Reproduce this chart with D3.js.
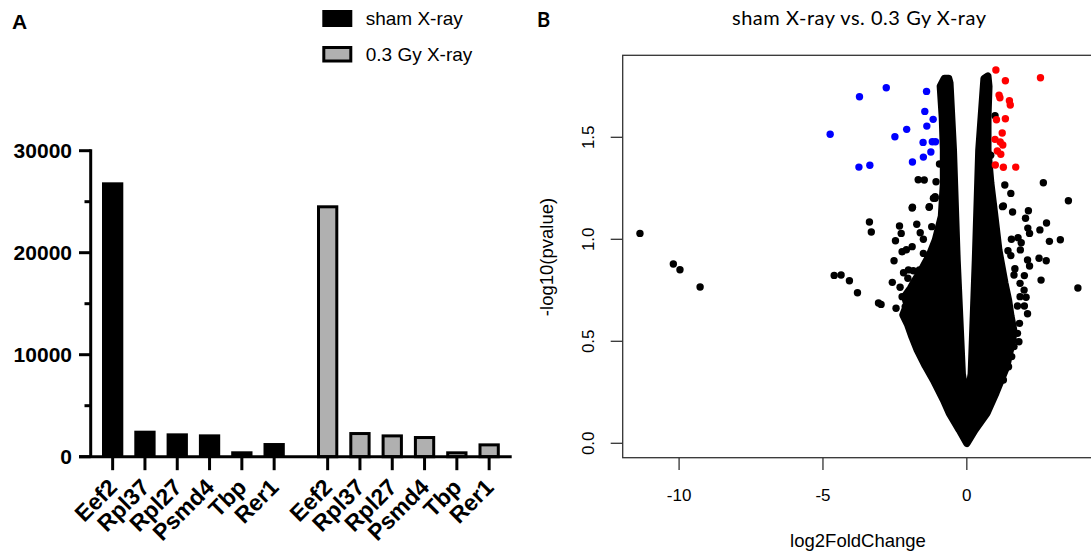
<!DOCTYPE html>
<html>
<head>
<meta charset="utf-8">
<script src="https://cdn.jsdelivr.net/npm/d3@7"></script>
<style>
  body { margin: 0; background: #fff; }
  svg { display: block; }
</style>
</head>
<body>
<svg id="chart" width="1091" height="554"></svg>
<script>
// ---------- Panel A: reference gene counts ----------
const genes = ["Eef2", "Rpl37", "Rpl27", "Psmd4", "Tbp", "Rer1"];
const groups = ["sham X-ray", "0.3 Gy X-ray"];
const shamValues = [26900, 2550, 2290, 2190, 530, 1340];
const irradiatedValues = [24500, 2270, 2040, 1880, 380, 1160];
const countTicks = [0, 10000, 20000, 30000];
const countMinorTicks = [5000, 15000, 25000];

// ---------- Panel B: volcano plot ----------
const volcanoTitle = "sham X-ray vs. 0.3 Gy X-ray";
const lfcTicks = [-10, -5, 0];
const pTicks = [0, 0.5, 1.0, 1.5];

// outline of the dense mass of non-significant genes [log2FC, -log10 p]
const denseOutline = [
  [0, 0], [-0.26, 0.065], [-0.61, 0.148], [-0.81, 0.212], [-1.16, 0.310],
  [-1.44, 0.379], [-1.72, 0.457], [-1.90, 0.52], [-2.05, 0.58], [-2.22, 0.63],
  [-2.08, 0.68], [-2.16, 0.72], [-1.96, 0.76], [-1.80, 0.80], [-1.58, 0.850],
  [-1.30, 0.923], [-1.09, 0.997], [-0.88, 1.114],
  [-0.81, 1.276], [-0.81, 1.438], [-0.85, 1.600], [-0.92, 1.750], [-0.78, 1.788],
  [-0.63, 1.788], [-0.59, 1.766], [-0.47, 1.438], [-0.34, 0.898], [-0.16, 0.34],
  [0, 0.20], [0.155, 0.34], [0.30, 0.898], [0.42, 1.438], [0.58, 1.75],
  [0.60, 1.788], [0.73, 1.80], [0.765, 1.75], [0.73, 1.600], [0.73, 1.438],
  [0.83, 1.276], [0.97, 1.114], [1.11, 0.948], [1.32, 0.786], [1.45, 0.70],
  [1.53, 0.624], [1.62, 0.56], [1.60, 0.507], [1.48, 0.44], [1.39, 0.379],
  [1.01, 0.247], [0.70, 0.148], [0.28, 0.065]
];

// genes outside the dense mass that are not significant
const otherGenes = [
  [-11.36, 1.029], [-10.20, 0.879], [-9.97, 0.851], [-9.27, 0.766],
  [-4.61, 0.823], [-4.37, 0.825], [-4.08, 0.797], [-3.80, 0.738],
  [-3.385, 1.085], [-3.32, 1.036], [-3.07, 0.688], [-2.98, 0.681],
  [-1.90, 1.153], [-2.34, 1.065], [-2.28, 1.029], [-2.48, 0.993], [-2.53, 0.895], [-2.59, 0.789],
  [-2.25, 0.939], [-2.10, 0.949], [-1.90, 0.964], [-2.32, 0.765], [-2.25, 0.719], [-2.46, 0.662],
  [-1.74, 1.074], [-1.62, 1.032], [-1.51, 1.0], [-1.31, 1.157], [-1.51, 0.931],
  [-1.69, 1.292], [-1.48, 1.291], [-1.07, 1.282], [-1.89, 1.157], [-1.30, 1.16], [-0.95, 1.369],
  [-2.20, 0.836], [-2.03, 0.850], [-1.86, 0.846], [-1.65, 0.850], [-2.03, 0.629], [-1.94, 0.670],
  [-1.80, 0.604], [-2.14, 0.670], [-2.05, 0.809], [-2.01, 0.735], [-1.74, 0.800], [-1.39, 0.882],
  [-1.22, 1.062], [-1.10, 1.201], [-1.10, 1.209], [-1.16, 1.201],
  [2.66, 1.277], [3.53, 1.189], [1.32, 1.266], [1.53, 1.225], [1.27, 1.163], [0.83, 1.412], [0.98, 1.606],
  [1.24, 1.16], [1.59, 1.134], [2.14, 1.140], [2.04, 1.103], [2.77, 1.080], [2.12, 1.055], [2.18, 1.029],
  [2.54, 1.046], [2.87, 0.990], [3.25, 0.998], [1.55, 1.0], [1.78, 1.008], [1.86, 0.948], [1.89, 0.983],
  [1.43, 0.944], [1.53, 0.920], [2.11, 0.899], [2.18, 0.869], [2.51, 0.907], [2.76, 0.895], [2.00, 0.822],
  [2.58, 0.800], [3.86, 0.761], [1.67, 0.856], [1.64, 0.825], [1.85, 0.784], [1.99, 0.751], [1.85, 0.719],
  [2.06, 0.716], [1.76, 0.673], [2.00, 0.673], [2.11, 0.635], [1.83, 0.588], [1.76, 0.539], [1.81, 0.498],
  [1.64, 0.474], [1.56, 0.425], [1.45, 0.375], [1.27, 0.310]
];

// significantly down-regulated genes
const downGenes = [
  [-4.75, 1.515], [-3.73, 1.699], [-2.80, 1.743], [-3.75, 1.354], [-3.37, 1.363],
  [-2.50, 1.503], [-2.09, 1.539], [-1.89, 1.379], [-1.40, 1.725], [-1.46, 1.627],
  [-1.17, 1.588], [-1.39, 1.555], [-1.52, 1.475], [-1.20, 1.478], [-1.09, 1.478],
  [-1.25, 1.428], [-1.51, 1.403]
];

// significantly up-regulated genes
const upGenes = [
  [1.01, 1.830], [1.34, 1.777], [2.56, 1.792], [1.12, 1.707], [1.15, 1.694],
  [1.48, 1.679], [1.51, 1.658], [1.03, 1.586], [1.34, 1.591], [1.23, 1.521],
  [0.98, 1.490], [1.16, 1.477], [1.25, 1.462], [1.06, 1.433], [1.18, 1.417],
  [0.99, 1.364], [1.27, 1.353], [1.70, 1.354]
];

const svg = d3.select("#chart");
const arial = "'Liberation Sans', Arial, sans-serif";

// ===================== Panel A =====================
const gA = svg.append("g");

const yA = d3.scaleLinear().domain([0, 30000]).range([456.7, 150.7]);
const xGroup = d3.scaleBand().domain(groups).range([96.5, 505.3]).paddingInner(0.0986);
const xGene = d3.scaleBand().domain(genes).range([0, xGroup.bandwidth()]);
const barW = 21.3;

const seriesData = [
  { group: groups[0], values: shamValues, fill: "#000", stroke: "none" },
  { group: groups[1], values: irradiatedValues, fill: "#b0b0b0", stroke: "#000" }
];

seriesData.forEach(s => {
  const cx = g => xGroup(s.group) + xGene(g) + xGene.bandwidth() / 2;
  gA.selectAll(null)
    .data(genes.map((g, i) => ({ gene: g, v: s.values[i] })))
    .join("rect")
    .attr("x", d => cx(d.gene) - (s.stroke === "none" ? barW / 2 : barW / 2 - 1.5))
    .attr("y", d => yA(d.v))
    .attr("width", s.stroke === "none" ? barW : barW - 3)
    .attr("height", d => yA(0) - yA(d.v))
    .attr("fill", s.fill)
    .attr("stroke", s.stroke)
    .attr("stroke-width", 3);

  // category ticks and labels
  genes.forEach(g => {
    gA.append("line")
      .attr("x1", cx(g)).attr("x2", cx(g))
      .attr("y1", yA(0)).attr("y2", yA(0) + 13.5)
      .attr("stroke", "#000").attr("stroke-width", 3);
    gA.append("text")
      .attr("transform", `translate(${cx(g) + 6},${yA(0) + 32}) rotate(-45)`)
      .attr("text-anchor", "end")
      .attr("font-family", arial)
      .attr("font-weight", "bold")
      .attr("font-size", 23)
      .text(g);
  });
});

// axes of panel A
gA.append("line")
  .attr("x1", 90.7).attr("x2", 90.7)
  .attr("y1", yA(30000) - 1.5).attr("y2", yA(0))
  .attr("stroke", "#000").attr("stroke-width", 3);
gA.append("line")
  .attr("x1", 79).attr("x2", 511.7)
  .attr("y1", yA(0)).attr("y2", yA(0))
  .attr("stroke", "#000").attr("stroke-width", 3);
countTicks.forEach(t => {
  gA.append("line")
    .attr("x1", 79).attr("x2", 90.7)
    .attr("y1", yA(t)).attr("y2", yA(t))
    .attr("stroke", "#000").attr("stroke-width", 3);
  gA.append("text")
    .attr("x", 72).attr("y", yA(t))
    .attr("dy", "0.36em")
    .attr("text-anchor", "end")
    .attr("font-family", arial)
    .attr("font-weight", "bold")
    .attr("font-size", 21)
    .text(t);
});
countMinorTicks.forEach(t => {
  gA.append("line")
    .attr("x1", 84.5).attr("x2", 90.7)
    .attr("y1", yA(t)).attr("y2", yA(t))
    .attr("stroke", "#000").attr("stroke-width", 3);
});

// legend
const legend = gA.append("g");
legend.append("rect").attr("x", 322.3).attr("y", 10).attr("width", 30).attr("height", 17).attr("fill", "#000");
legend.append("rect").attr("x", 323.8).attr("y", 47.5).attr("width", 27).attr("height", 13.5)
  .attr("fill", "#b0b0b0").attr("stroke", "#000").attr("stroke-width", 3);
groups.forEach((g, i) => {
  legend.append("text")
    .attr("x", 365.7).attr("y", 18.5 + i * 36)
    .attr("dy", "0.36em")
    .attr("font-family", arial)
    .attr("font-size", 19)
    .text(g);
});

svg.append("text")
  .attr("x", 12).attr("y", 28.5)
  .attr("font-family", arial).attr("font-weight", "bold").attr("font-size", 21)
  .text("A");

// ===================== Panel B =====================
const gB = svg.append("g");
const xB = d3.scaleLinear().domain([-11.96, 4.42]).range([622.7, 1094]);
const yB = d3.scaleLinear().domain([-0.0706, 1.902]).range([457.7, 55.3]);
const r = 3.7;

// dense mass
gB.append("path")
  .datum(denseOutline)
  .attr("d", d3.line().x(d => xB(d[0])).y(d => yB(d[1])).curve(d3.curveLinearClosed))
  .attr("fill", "#000")
  .attr("stroke", "#000")
  .attr("stroke-width", 2 * r)
  .attr("stroke-linejoin", "round");

const dots = (data, color) => gB.selectAll(null)
  .data(data)
  .join("circle")
  .attr("cx", d => xB(d[0]))
  .attr("cy", d => yB(d[1]))
  .attr("r", r)
  .attr("fill", color);
dots(otherGenes, "#000");
dots(downGenes, "#0000ff");
dots(upGenes, "#ff0000");

// frame
gB.append("rect")
  .attr("x", xB.range()[0]).attr("y", yB.range()[1])
  .attr("width", xB.range()[1] - xB.range()[0])
  .attr("height", yB.range()[0] - yB.range()[1])
  .attr("fill", "none").attr("stroke", "#333").attr("stroke-width", 1.3);

// x axis
lfcTicks.forEach(t => {
  gB.append("line")
    .attr("x1", xB(t)).attr("x2", xB(t))
    .attr("y1", 458).attr("y2", 470)
    .attr("stroke", "#333").attr("stroke-width", 1.3);
  gB.append("text")
    .attr("x", xB(t)).attr("y", 495)
    .attr("dy", "0.36em")
    .attr("text-anchor", "middle")
    .attr("font-family", arial).attr("font-size", 17)
    .text(t);
});
// y axis
pTicks.forEach(t => {
  gB.append("line")
    .attr("x1", 610.7).attr("x2", 622.7)
    .attr("y1", yB(t)).attr("y2", yB(t))
    .attr("stroke", "#333").attr("stroke-width", 1.3);
  gB.append("text")
    .attr("transform", `translate(587.5,${yB(t)}) rotate(-90)`)
    .attr("dy", "0.36em")
    .attr("text-anchor", "middle")
    .attr("font-family", arial).attr("font-size", 17)
    .text(d3.format(".1f")(t));
});

gB.append("text")
  .attr("x", 858).attr("y", 540)
  .attr("dy", "0.36em")
  .attr("text-anchor", "middle")
  .attr("font-family", arial).attr("font-size", 18.5)
  .text("log2FoldChange");
gB.append("text")
  .attr("transform", `translate(546,257) rotate(-90)`)
  .attr("dy", "0.36em")
  .attr("text-anchor", "middle")
  .attr("font-family", arial).attr("font-size", 18.5)
  .text("-log10(pvalue)");

svg.append("text")
  .attr("x", 859).attr("y", 18)
  .attr("dy", "0.36em")
  .attr("text-anchor", "middle")
  .attr("font-family", "Lato, 'Open Sans', sans-serif").attr("font-size", 20)
  .attr("textLength", 254).attr("lengthAdjust", "spacing")
  .text(volcanoTitle);

svg.append("text")
  .attr("x", 537).attr("y", 26.5)
  .attr("font-family", "Lato, 'Open Sans', sans-serif").attr("font-weight", "bold").attr("font-size", 20)
  .text("B");
</script>
</body>
</html>
